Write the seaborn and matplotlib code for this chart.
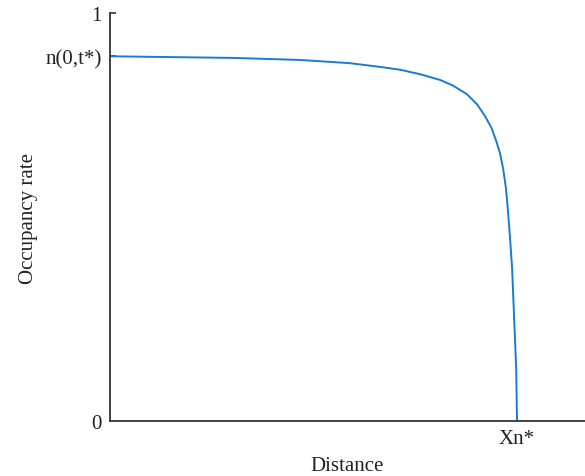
import matplotlib
matplotlib.use("Agg")
import matplotlib.pyplot as plt
import seaborn as sns
import pandas as pd

# --- data ---
distance = [0.0, 0.147, 0.302, 0.467, 0.590, 0.663, 0.713, 0.762, 0.811, 0.843,
            0.877, 0.902, 0.921, 0.937, 0.949, 0.958, 0.966, 0.973, 0.978, 0.983,
            0.988, 0.993, 0.998, 1.0]
occupancy = [0.894, 0.892, 0.890, 0.885, 0.877, 0.868, 0.861, 0.850, 0.836, 0.822,
             0.801, 0.776, 0.748, 0.719, 0.686, 0.657, 0.618, 0.569, 0.512, 0.446,
             0.373, 0.250, 0.127, 0.0]
ytick_vals = [0, 0.894, 1]
ytick_labels = ["0", "n(0,t*)", "1"]
xtick_vals = [1.0]
xtick_labels = ["Xn*"]

df = pd.DataFrame({"distance": distance, "occupancy": occupancy})

sns.set_style("ticks")
plt.rcParams["font.family"] = ["Liberation Serif", "DejaVu Serif"]

fig = plt.figure(figsize=(5.85, 4.77), dpi=100)
ax = fig.add_axes([0.188, 0.1153, 0.812, 0.8553])

sns.lineplot(data=df, x="distance", y="occupancy", ax=ax, color="#1a7ccc",
             linewidth=1.4, sort=False, estimator=None)

ax.set_xlim(0, 1.167)
ax.set_ylim(0, 1)
ax.set_xticks(xtick_vals)
ax.set_xticklabels(xtick_labels)
ax.set_yticks(ytick_vals)
ax.set_yticklabels(ytick_labels)
ax.tick_params(direction="in", length=4, width=1.2, colors="#333333",
               labelsize=15, labelcolor="#222222", pad=6)
ax.yaxis.get_major_ticks()[0].tick1line.set_visible(False)

ax.set_xlabel("Distance", fontsize=15, color="#222222", labelpad=5.5)
ax.set_ylabel("Occupancy rate", fontsize=15, color="#222222", labelpad=5)

sns.despine(ax=ax)
for side in ["left", "bottom"]:
    ax.spines[side].set_color("#333333")
    ax.spines[side].set_linewidth(1.3)

fig.savefig("out.png", dpi=100)
